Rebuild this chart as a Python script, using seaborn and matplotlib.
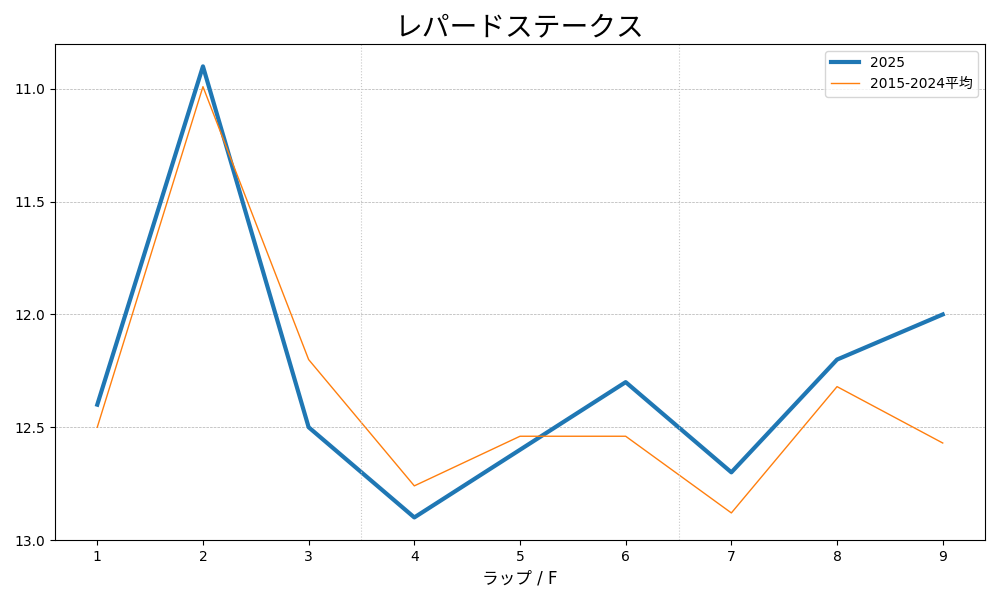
import matplotlib
matplotlib.use("Agg")
import matplotlib.pyplot as plt
import seaborn as sns
import pandas as pd

plt.rcParams['font.family'] = ['DejaVu Sans', 'Noto Sans CJK JP']

laps = [1, 2, 3, 4, 5, 6, 7, 8, 9]
y2025 = [12.4, 10.9, 12.5, 12.9, 12.6, 12.3, 12.7, 12.2, 12.0]
yavg = [12.5, 10.99, 12.2, 12.76, 12.54, 12.54, 12.88, 12.32, 12.57]
label_2025 = "2025"
label_avg = "2015-2024平均"
title = "レパードステークス"
xlabel = "ラップ / F"
yticks = [11.0, 11.5, 12.0, 12.5, 13.0]
section_lines = [3.5, 6.5]

df1 = pd.DataFrame({"lap": laps, "time": y2025})
df2 = pd.DataFrame({"lap": laps, "time": yavg})

fig, ax = plt.subplots(figsize=(10, 6), dpi=100)
sns.lineplot(data=df1, x="lap", y="time", ax=ax, color="#1f77b4", linewidth=3, label=label_2025)
sns.lineplot(data=df2, x="lap", y="time", ax=ax, color="#ff7f0e", linewidth=1, label=label_avg)

ax.set_ylim(13.0, 10.8)
ax.set_yticks(yticks)
ax.set_yticklabels([f"{v:.1f}" for v in yticks])
ax.set_xticks(laps)
ax.set_xlim(0.6, 9.4)
ax.yaxis.grid(True, linestyle="--", linewidth=0.5, color="#b0b0b0")
for xv in section_lines:
    ax.axvline(xv, color="#c8c8c8", linestyle=":", linewidth=0.8)
ax.set_title(title, fontsize=20)
ax.set_xlabel(xlabel, fontsize=12)
ax.set_ylabel("")
ax.legend(loc="upper right")
fig.subplots_adjust(left=0.055, right=0.985, top=0.927, bottom=0.1)
fig.savefig("out.png", dpi=100)
